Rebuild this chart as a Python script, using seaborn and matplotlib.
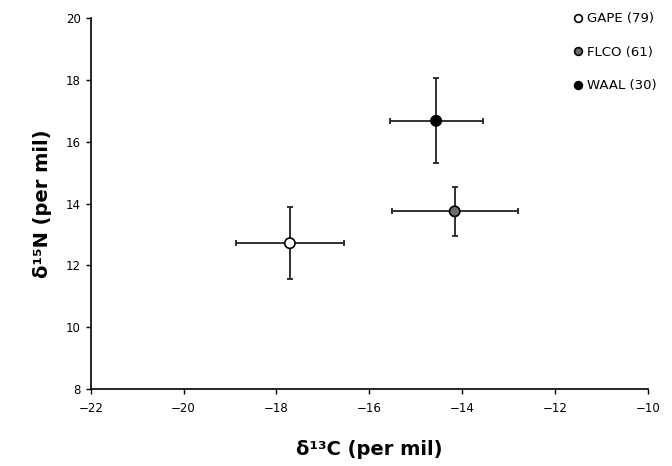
import numpy as np
import pandas as pd
import seaborn as sns
import matplotlib.pyplot as plt

# mean isotope values per species, with SD
species = ['GAPE (79)', 'FLCO (61)', 'WAAL (30)']
d13c = [-17.71, -14.16, -14.56]
d13c_sd = [1.17, 1.36, 1.0]
d15n = [12.72, 13.75, 16.68]
d15n_sd = [1.16, 0.8, 1.38]
colours = ['white', '#6b6b6b', 'black']

df = pd.DataFrame({'species': species, 'd13C': d13c, 'd15N': d15n})

sns.set_style('white')
plt.rcParams['font.family'] = ['DejaVu Sans']
plt.rcParams['text.color'] = 'black'
plt.rcParams['axes.labelcolor'] = 'black'
plt.rcParams['xtick.color'] = 'black'
plt.rcParams['ytick.color'] = 'black'

fig = plt.figure(figsize=(6.72, 4.66), dpi=100)
ax = fig.add_axes([0.135, 0.165, 0.829, 0.796])

# error bars first so the markers sit on top
ax.errorbar(d13c, d15n, xerr=d13c_sd, yerr=d15n_sd, fmt='none',
            ecolor='#222222', elinewidth=1.3, capsize=2.5, capthick=1.3, zorder=1)

sns.scatterplot(data=df, x='d13C', y='d15N', hue='species',
                palette=dict(zip(species, colours)), s=55,
                edgecolor='black', linewidth=1.2, zorder=3, ax=ax)

ax.set_xlim(-22, -10)
ax.set_ylim(8, 20)
ax.set_xticks(np.arange(-22, -9, 2))
ax.set_yticks(np.arange(8, 21, 2))
ax.tick_params(axis='both', direction='out', length=3.5, width=1, labelsize=8.5,
               bottom=True, left=True, color='black', labelcolor='black')
ax.tick_params(axis='x', pad=6)

for side in ['top', 'right']:
    ax.spines[side].set_visible(False)
for side in ['left', 'bottom']:
    ax.spines[side].set_color('black')
    ax.spines[side].set_linewidth(1.2)

ax.set_xlabel('δ¹³C (per mil)', fontsize=14, fontweight='bold', labelpad=18, color='black')
ax.set_ylabel('δ¹⁵N (per mil)', fontsize=14, fontweight='bold', labelpad=10, color='black')

leg = ax.legend(loc='upper right', bbox_to_anchor=(1.025, 1.03), frameon=False,
                fontsize=9.5, labelspacing=1.55, handletextpad=-0.3,
                markerscale=0.75, borderaxespad=0)
for t in leg.get_texts():
    t.set_color('black')

fig.savefig('out.png', dpi=100)
